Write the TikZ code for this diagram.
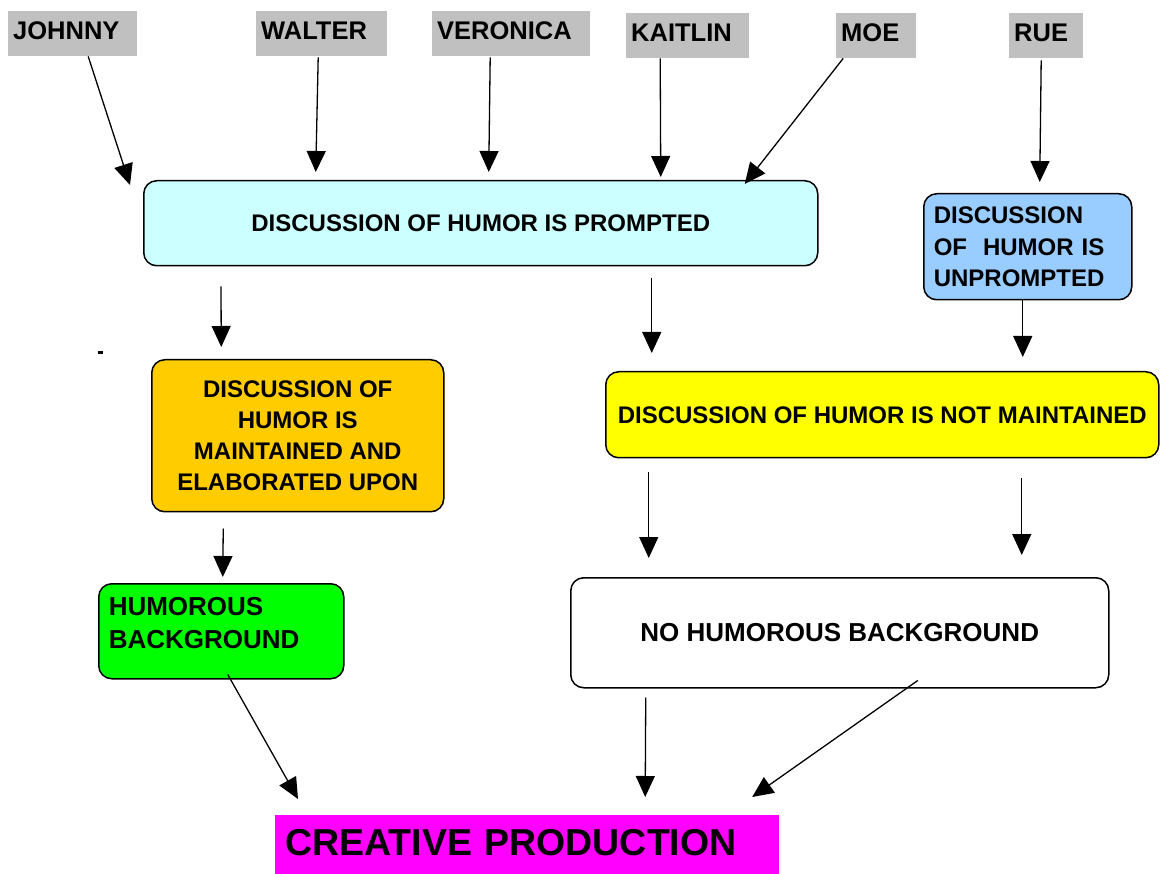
\documentclass[tikz,border=0pt]{standalone}
\usepackage{fontspec}
\setmainfont{Liberation Sans}
\usepackage{tikz}
\usetikzlibrary{arrows.meta, calc}

\definecolor{nameGray}{HTML}{C0C0C0}
\definecolor{promptCyan}{HTML}{CCFFFF}
\definecolor{unpromptBlue}{HTML}{99CCFF}
\definecolor{maintOrange}{HTML}{FFCC00}
\definecolor{notYellow}{HTML}{FFFF00}
\definecolor{humGreen}{HTML}{00FF00}
\definecolor{creaMagenta}{HTML}{FF00FF}

\begin{document}
\begin{tikzpicture}[x=1pt,y=1pt,yscale=-1,xscale=1,
    namebox/.style={fill=nameGray, anchor=north west, inner xsep=5pt, inner ysep=0pt, align=left,
        text width=#1, text height=28pt, text depth=17pt, font=\fontsize{25.5}{30}\selectfont\bfseries},
    stepbox/.style={draw=black, line width=1.5pt, rounded corners=13pt, anchor=north west, inner sep=0pt},
    arr/.style={-{Triangle[length=21pt,width=19pt]}, line width=1.3pt}]
        \useasboundingbox (0,0) rectangle (1160,874);

        %Names
        \node[namebox=119pt] (johnny) at (8,11) {JOHNNY};
        \node[namebox=121pt] (walter) at (256,11) {WALTER};
        \node[namebox=148pt] (veronica) at (432,11) {VERONICA};
        \node[namebox=113pt] (kaitlin) at (626,13) {KAITLIN};
        \node[namebox=70pt] (moe) at (836,13) {MOE};
        \node[namebox=64pt] (rue) at (1009,13) {RUE};

        %Discussion boxes
        \node[stepbox, fill=promptCyan, minimum width=674pt, minimum height=85pt,
            font=\fontsize{24}{31}\selectfont\bfseries] (prompted) at (143,180) {DISCUSSION OF HUMOR IS PROMPTED};
        \node[stepbox, fill=unpromptBlue, inner xsep=10pt, text width=188pt, align=left, minimum height=106pt,
            font=\fontsize{24}{31.5}\selectfont\bfseries] (unprompted) at (923,193) {DISCUSSION\\OF\ \ HUMOR IS\\UNPROMPTED};
        \node[stepbox, fill=maintOrange, minimum width=292pt, minimum height=152pt, align=center,
            font=\fontsize{24}{31}\selectfont\bfseries] (maintained) at (151,359) {DISCUSSION OF\\HUMOR IS\\MAINTAINED AND\\ELABORATED UPON};
        \node[stepbox, fill=notYellow, minimum width=553pt, minimum height=86pt,
            font=\fontsize{24}{31}\selectfont\bfseries] (notmaint) at (605,371) {DISCUSSION OF HUMOR IS NOT MAINTAINED};

        %Background boxes
        \node[stepbox, fill=humGreen, inner xsep=10pt, text width=225pt, align=left, text height=31.6pt, text depth=63.4pt,
            font=\fontsize{26}{33}\selectfont\bfseries] (humorous) at (98,583) {HUMOROUS\\BACKGROUND};
        \node[stepbox, fill=white, minimum width=538pt, minimum height=110pt,
            font=\fontsize{26}{33}\selectfont\bfseries] (nohumor) at (570,577) {NO HUMOROUS BACKGROUND};
        \node[fill=creaMagenta, anchor=north west, inner xsep=10pt, inner ysep=0pt, text width=484pt, align=left,
            text height=40pt, text depth=19pt, font=\fontsize{37.5}{40}\selectfont\bfseries] (creative) at (275,815) {CREATIVE PRODUCTION};

        %stray mark
        \fill (98,351.5) rectangle (103,354.5);

        %Arrows from names
        \draw[arr] ($(johnny.south)+(15.5,0)$) -- ($(prompted.north west)+(-13,5)$);
        \draw[arr] ($(walter.south)+(-3.5,1)$) -- ($(prompted.north)+(-165,-8)$);
        \draw[arr] ($(veronica.south)+(-21,1)$) -- ($(prompted.north)+(8,-8)$);
        \draw[arr] ($(kaitlin.south)+(-27.5,0)$) -- ($(prompted.north)+(180,-3)$);
        \draw[arr] ($(moe.south)+(-33,0)$) -- ($(prompted.north)+(264,4)$);
        \draw[arr] ($(rue.south)+(-5,2)$) -- ($(unprompted.north)+(12,-11)$);

        %Arrows between boxes
        \draw[arr] ($(prompted.south west)+(78,20)$) -- ($(maintained.north)+(-76.5,-12)$);
        \draw[arr] ($(prompted.south)+(171,12)$) -- ($(notmaint.north)+(-230.5,-18)$);
        \draw[arr] ($(unprompted.south)+(-5,0)$) -- ($(notmaint.north)+(140.5,-14)$);
        \draw[arr] ($(maintained.south)+(-74.5,16)$) -- ($(humorous.north)+(1.5,-6)$);
        \draw[arr] ($(notmaint.south)+(-233.5,14)$) -- ($(nohumor.north)+(-191,-19)$);
        \draw[arr] ($(notmaint.south)+(139.5,20)$) -- ($(nohumor.north)+(182,-22)$);

        %Arrows to creative production
        \draw[arr] ($(humorous.south)+(6.5,-5)$) -- ($(creative.north west)+(23,-16)$);
        \draw[arr] ($(nohumor.south)+(-194,9)$) -- ($(creative.north)+(118,-18)$);
        \draw[arr] ($(nohumor.south)+(78,-8)$) -- ($(creative.north)+(225,-18)$);

    \end{tikzpicture}
\end{document}
